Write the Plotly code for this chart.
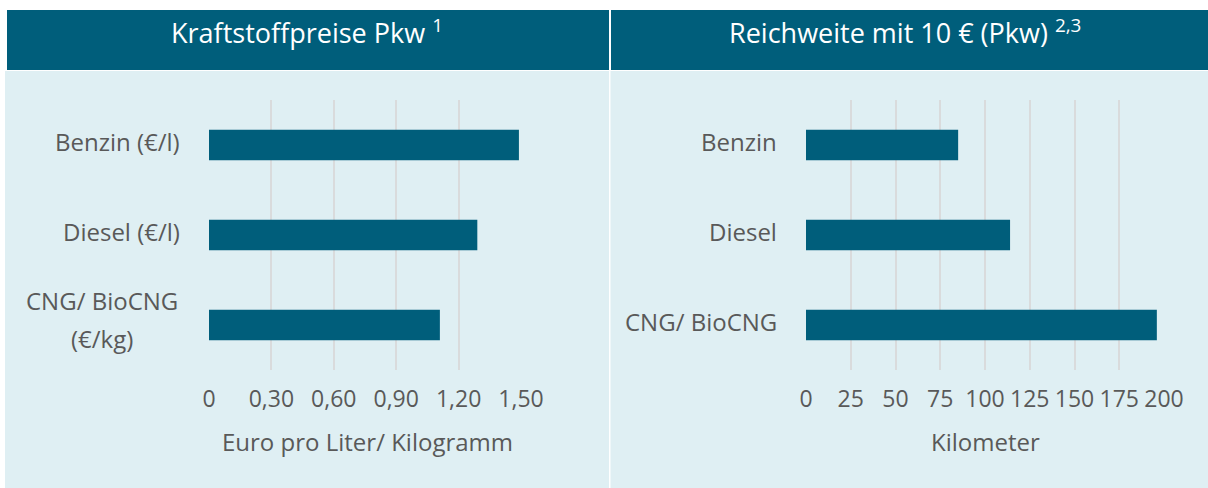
import plotly.graph_objects as go

# ---- data ----
price_categories = ["Benzin (€/l)", "Diesel (€/l)", "CNG/ BioCNG<br>(€/kg)"]
price_values = [1.49, 1.29, 1.11]
price_ticks = [0, 0.3, 0.6, 0.9, 1.2, 1.5]
price_ticklabels = ["0", "0,30", "0,60", "0,90", "1,20", "1,50"]

range_categories = ["Benzin", "Diesel", "CNG/ BioCNG"]
range_values = [85, 114, 196]
range_ticks = [0, 25, 50, 75, 100, 125, 150, 175, 200]
range_ticklabels = ["0", "25", "50", "75", "100", "125", "150", "175", "200"]

title_left = "Kraftstoffpreise Pkw <sup>1</sup>"
title_right = "Reichweite mit 10 € (Pkw) <sup>2,3</sup>"
xtitle_left = "Euro pro Liter/ Kilogramm"
xtitle_right = "Kilometer"

# ---- layout helpers ----
W, H = 1208, 488
def px(x):
    return x / W
def py(y):
    return 1 - y / H

DARK = "#005E7B"
LIGHT = "#DFEFF3"
TEXT = "#595959"
GRID = "#D9DBDC"
FONT = "Open Sans"

fig = go.Figure()
fig.add_trace(go.Bar(y=price_categories, x=price_values, orientation="h",
                     marker=dict(color=DARK, line=dict(width=0)),
                     xaxis="x", yaxis="y", hoverinfo="skip"))
fig.add_trace(go.Bar(y=range_categories, x=range_values, orientation="h",
                     marker=dict(color=DARK, line=dict(width=0)),
                     xaxis="x2", yaxis="y2", hoverinfo="skip"))

ydom = [py(370), py(100)]
common_x = dict(showgrid=True, gridcolor=GRID, gridwidth=2, zeroline=False,
                showline=False, ticks="", tickfont=dict(family=FONT, size=23, color=TEXT),
                ticklabelstandoff=13, fixedrange=True, automargin=False)
common_y = dict(showgrid=False, zeroline=False, showline=False, ticks="",
                showticklabels=False, autorange="reversed", fixedrange=True,
                automargin=False)

fig.update_layout(
    width=W, height=H,
    margin=dict(l=0, r=0, t=0, b=0, autoexpand=False),
    paper_bgcolor="white", plot_bgcolor="rgba(0,0,0,0)",
    showlegend=False, bargap=0.66,
    font=dict(family=FONT, color=TEXT),
    xaxis=dict(domain=[px(209), px(521)], range=[0, 1.5],
               tickvals=price_ticks, ticktext=price_ticklabels, anchor="y", **common_x),
    yaxis=dict(domain=ydom, anchor="x", **common_y),
    xaxis2=dict(domain=[px(806), px(1164)], range=[0, 200],
                tickvals=range_ticks, ticktext=range_ticklabels, anchor="y2", **common_x),
    yaxis2=dict(domain=ydom, anchor="x2", **common_y),
)

shapes = [
    dict(type="rect", xref="paper", yref="paper", x0=px(5), x1=px(609), y0=py(488), y1=py(71),
         fillcolor=LIGHT, line=dict(width=0), layer="below"),
    dict(type="rect", xref="paper", yref="paper", x0=px(610.5), x1=px(1208), y0=py(488), y1=py(71),
         fillcolor=LIGHT, line=dict(width=0), layer="below"),
    dict(type="rect", xref="paper", yref="paper", x0=px(7), x1=px(609), y0=py(70), y1=py(10),
         fillcolor=DARK, line=dict(width=0), layer="below"),
    dict(type="rect", xref="paper", yref="paper", x0=px(611), x1=px(1208), y0=py(70), y1=py(10),
         fillcolor=DARK, line=dict(width=0), layer="below"),
]
fig.update_layout(shapes=shapes)

ann = []
ann.append(dict(text=title_left, x=px(307), y=py(32), xref="paper", yref="paper",
                showarrow=False, font=dict(family=FONT, size=27, color="white"),
                xanchor="center", yanchor="middle"))
ann.append(dict(text=title_right, x=px(905), y=py(32), xref="paper", yref="paper",
                showarrow=False, font=dict(family=FONT, size=27, color="white"),
                xanchor="center", yanchor="middle"))
ann.append(dict(text=xtitle_left, x=px(367), y=py(441), xref="paper", yref="paper",
                showarrow=False, font=dict(family=FONT, size=24, color=TEXT),
                xanchor="center", yanchor="middle"))
ann.append(dict(text=xtitle_right, x=px(985), y=py(441), xref="paper", yref="paper",
                showarrow=False, font=dict(family=FONT, size=24, color=TEXT),
                xanchor="center", yanchor="middle"))

def add_cat_labels(cats, yref, xpos, center_x):
    for c in cats:
        lines = c.split("<br>")
        n = len(lines)
        if n == 1:
            ann.append(dict(text=c, x=px(xpos), y=c, xref="paper", yref=yref,
                            showarrow=False, font=dict(family=FONT, size=24, color=TEXT),
                            xanchor="right", yanchor="middle", yshift=4))
        else:
            for i, ln in enumerate(lines):
                ann.append(dict(text=ln, x=px(center_x), y=c, xref="paper", yref=yref,
                                showarrow=False, font=dict(family=FONT, size=24, color=TEXT),
                                xanchor="center", yanchor="middle",
                                yshift=(n - 1) / 2 * 38 - i * 38 + 6))

add_cat_labels(price_categories, "y", 182, 102)
add_cat_labels(range_categories, "y2", 779, 700)
fig.update_layout(annotations=ann)

fig.write_html("out.html", config={"displayModeBar": False, "staticPlot": True},
               post_script="document.body.style.margin='0';document.body.style.overflow='hidden';")
